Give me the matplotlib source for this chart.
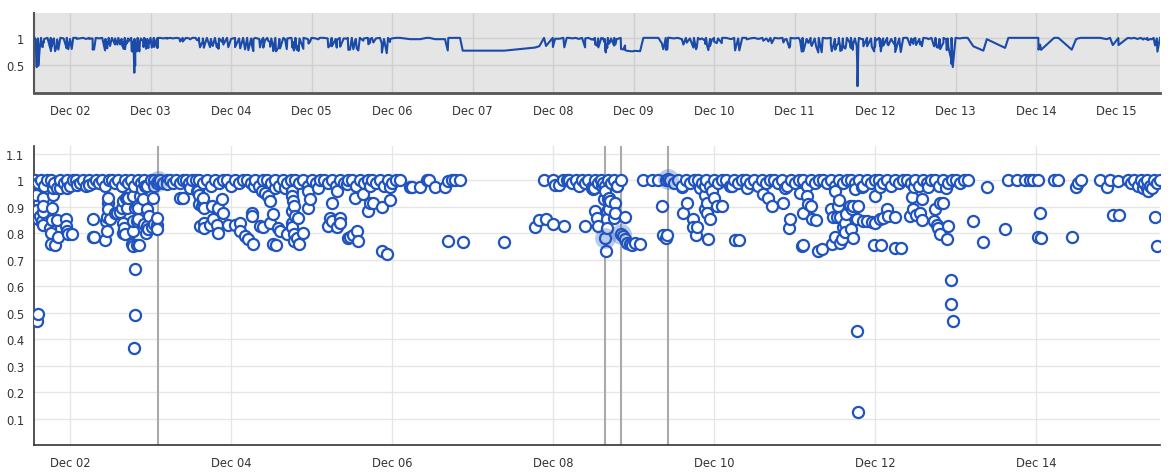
import matplotlib

matplotlib.use("Agg")
import matplotlib.dates as mdates
import matplotlib.pyplot as plt
import numpy as np
import pandas as pd
from matplotlib.ticker import FuncFormatter

START = pd.Timestamp("2023-12-01")

# readings sitting on the ~1.0 plateau (days since Dec 01 00:00)
plateau_a_days = [
    0.56, 0.60, 0.64, 0.68, 0.72, 0.76, 0.80, 0.84, 0.88, 0.92, 0.96, 1.00, 1.04,
    1.08, 1.12, 1.16, 1.20, 1.24, 1.28, 1.32, 1.36, 1.40, 1.44, 1.48, 1.52, 1.56,
    1.60, 1.64, 1.68, 1.72, 1.76, 1.80, 1.84, 1.88, 1.92, 1.96, 2.00, 2.04, 2.08,
    2.12, 2.16, 2.20, 2.24, 2.28, 2.32, 2.36, 2.40, 2.44, 2.48, 2.52, 2.56,
]
plateau_a_vals = [
    1.0, 0.99, 1.0, 0.98, 1.0, 1.0, 0.99, 0.97, 1.0, 0.99, 1.0, 0.98, 1.0,
    1.0, 0.99, 1.0, 0.98, 1.0, 0.99, 1.0, 0.99, 1.0, 0.98, 1.0, 1.0, 0.99,
    1.0, 0.98, 1.0, 0.99, 1.0, 0.98, 1.0, 0.99, 1.0, 0.98, 1.0, 1.0, 0.99,
    1.0, 0.99, 1.0, 1.0, 0.99, 1.0, 0.99, 1.0, 1.0, 0.99, 1.0, 1.0,
]
plateau_b_days = [
    2.60, 2.65, 2.70, 2.75, 2.80, 2.85, 2.90, 2.95, 3.00, 3.05, 3.10, 3.15, 3.20,
    3.25, 3.30, 3.35, 3.40, 3.45, 3.50, 3.55, 3.60, 3.65, 3.70, 3.75, 3.80, 3.85,
    3.90, 3.95, 4.00, 4.05, 4.10, 4.15, 4.20, 4.25, 4.30, 4.35, 4.40, 4.45, 4.50,
    4.55, 4.60, 4.65, 4.70, 4.75, 4.80, 4.85, 4.90, 4.95, 5.00, 5.05, 5.10,
]
plateau_b_vals = [
    1.0, 0.99, 1.0, 0.98, 1.0, 0.99, 1.0, 1.0, 0.98, 1.0, 0.99, 1.0, 1.0,
    0.99, 1.0, 0.98, 1.0, 1.0, 0.99, 1.0, 0.98, 1.0, 0.99, 1.0, 1.0, 0.99,
    1.0, 0.98, 1.0, 0.99, 1.0, 1.0, 0.99, 1.0, 0.98, 1.0, 0.99, 1.0, 1.0,
    0.98, 1.0, 0.99, 1.0, 1.0, 0.99, 1.0, 0.98, 1.0, 0.99, 1.0, 1.0,
]
plateau_c_days = [
    7.20, 7.24, 7.28, 7.32, 7.36, 7.40, 7.44, 7.48, 7.52, 7.56, 7.60, 7.64, 7.68,
    7.72, 7.76, 7.80, 7.84,
]
plateau_c_vals = [
    1.0, 0.99, 1.0, 0.98, 1.0, 0.99, 1.0, 0.97, 1.0, 0.99, 1.0, 0.98, 1.0,
    0.99, 1.0, 0.98, 1.0,
]
plateau_d_days = [
    8.40, 8.45, 8.50, 8.55, 8.60, 8.65, 8.70, 8.75, 8.80, 8.85, 8.90, 8.95, 9.00,
    9.05, 9.10, 9.15, 9.20, 9.25, 9.30, 9.35, 9.40, 9.45, 9.50, 9.55, 9.60, 9.65,
    9.70, 9.75, 9.80, 9.85, 9.90, 9.95, 10.00, 10.05, 10.10, 10.15, 10.20, 10.25,
    10.30, 10.35, 10.40, 10.45, 10.50, 10.55, 10.60, 10.65, 10.70, 10.75, 10.80,
    10.85, 10.90, 10.95, 11.00, 11.05, 11.10, 11.15, 11.20, 11.25, 11.30, 11.35,
    11.40, 11.45, 11.50, 11.55, 11.60, 11.65, 11.70, 11.75, 11.80, 11.85, 11.90,
    11.95, 12.00, 12.05, 12.10, 12.15,
]
plateau_d_vals = [
    1.0, 1.0, 0.99, 1.0, 0.98, 1.0, 0.99, 1.0, 1.0, 0.99, 1.0, 0.98, 1.0,
    0.99, 1.0, 1.0, 0.98, 1.0, 0.99, 1.0, 1.0, 0.99, 1.0, 0.98, 1.0, 0.99,
    1.0, 1.0, 0.99, 1.0, 0.98, 1.0, 0.99, 1.0, 1.0, 0.98, 1.0, 0.99,
    1.0, 1.0, 0.99, 1.0, 0.98, 1.0, 0.99, 1.0, 1.0, 0.99, 1.0,
    0.98, 1.0, 0.99, 1.0, 1.0, 0.99, 1.0, 0.98, 1.0, 0.99, 1.0,
    1.0, 0.99, 1.0, 0.98, 1.0, 0.99, 1.0, 1.0, 0.98, 1.0, 0.99,
    1.0, 1.0, 0.99, 1.0, 1.0,
]
plateau_e_days = [14.14, 14.18, 14.22, 14.26, 14.30, 14.34, 14.38, 14.42, 14.46, 14.50, 14.54]
plateau_e_vals = [1.0, 0.99, 1.0, 0.98, 1.0, 0.99, 1.0, 0.98, 1.0, 0.99, 1.0]

# readings off the plateau
dips_a_days = [
    0.586, 0.606, 0.578, 0.588, 0.596, 0.627, 0.648, 0.661, 0.668, 0.670, 0.663,
    0.773, 0.785, 0.752, 0.760, 0.775, 0.835, 0.762, 0.814, 0.855, 0.950, 0.952,
    0.959, 0.979, 1.021, 1.083, 0.961, 0.876, 0.789, 1.289, 1.282, 1.298, 1.240,
    1.435, 1.463, 1.447, 1.497, 1.465, 1.466, 1.476, 1.468, 1.559, 1.588, 1.621,
    1.642, 1.662, 1.696, 1.724, 1.704, 1.655, 1.671, 1.664, 1.683, 1.766, 1.779,
    1.829, 1.861, 1.807, 1.809, 1.799, 1.781, 1.786, 1.831, 1.848, 1.811, 1.833,
    1.849, 1.788, 1.870, 1.911, 1.891, 1.932, 1.913, 1.953, 1.973, 2.015, 2.043,
    2.077, 1.944, 1.975, 1.955, 2.084, 2.086, 2.035, 2.045, 2.201, 2.366, 2.400,
    2.491, 2.594, 2.606, 2.615,
]
dips_a_vals = [
    0.469, 0.494, 0.943, 0.89, 0.853, 0.867, 0.848, 0.833, 0.935, 0.905, 0.882,
    0.897, 0.943, 0.821, 0.802, 0.849, 0.849, 0.76, 0.757, 0.787, 0.853, 0.829,
    0.81, 0.796, 0.799, 0.981, 0.971, 0.973, 0.973, 0.853, 0.787, 0.787, 0.981,
    0.773, 0.81, 0.848, 0.853, 0.86, 0.916, 0.935, 0.891, 0.878, 0.878, 0.882,
    0.897, 0.924, 0.935, 0.933, 0.897, 0.84, 0.821, 0.802, 0.796, 0.76, 0.751,
    0.755, 0.755, 0.665, 0.492, 0.368, 0.809, 0.847, 0.847, 0.853, 0.897, 0.904,
    0.897, 0.942, 0.942, 0.929, 0.967, 0.98, 0.834, 0.828, 0.815, 0.824, 0.834,
    0.831, 0.802, 0.866, 0.891, 0.859, 0.815, 0.935, 0.98, 0.986, 0.935, 0.933,
    0.973, 0.961, 0.91, 0.828,
]
dips_b_days = [
    2.574, 2.596, 2.656, 2.648, 2.636, 2.658, 2.760, 2.884, 2.842, 2.904, 2.660,
    2.662, 2.739, 2.773, 2.822, 2.844, 2.966, 3.050, 3.112, 3.114, 3.174, 3.215,
    3.277, 3.257, 3.259, 3.279, 3.381, 3.422, 3.463, 3.484, 3.360, 3.401, 3.486,
    3.518, 3.588, 3.609, 3.525, 3.559, 3.547, 3.671, 3.692, 3.754, 3.756, 3.774,
    3.776, 3.758, 3.795, 3.836, 3.760, 3.762, 3.778, 3.780, 3.838, 3.898, 3.816,
    3.960, 3.981, 3.962, 4.085, 4.251, 4.230, 4.253, 4.354, 4.356, 4.208, 4.313,
    4.315, 4.437, 4.478, 4.519, 4.561, 4.581, 4.457, 4.540, 4.643, 4.727, 4.768,
    4.872, 4.975, 4.706, 4.729, 4.977, 4.874, 4.934, 5.224,
]
dips_b_vals = [
    0.961, 0.946, 0.935, 0.923, 0.904, 0.897, 0.904, 0.929, 0.897, 0.878, 0.84,
    0.821, 0.831, 0.853, 0.831, 0.802, 0.831, 0.831, 0.84, 0.809, 0.79, 0.777,
    0.76, 0.878, 0.866, 0.98, 0.961, 0.954, 0.942, 0.923, 0.828, 0.824, 0.84,
    0.872, 0.821, 0.809, 0.76, 0.755, 0.973, 0.973, 0.796, 0.961, 0.942, 0.923,
    0.904, 0.884, 0.866, 0.859, 0.84, 0.824, 0.796, 0.771, 0.76, 0.802, 0.783,
    0.961, 0.929, 0.897, 0.973, 0.913, 0.859, 0.847, 0.859, 0.84, 0.828, 0.824,
    0.961, 0.986, 0.786, 0.793, 0.809, 0.771, 0.783, 0.935, 0.948, 0.916, 0.916,
    0.9, 0.925, 0.884, 0.98, 0.976, 0.733, 0.722, 0.976,
]
dips_c_days = [
    5.245, 5.348, 5.430, 5.463, 5.534, 5.658, 5.699, 5.741, 5.783, 5.845, 5.692,
    5.878, 6.395, 6.888, 6.996, 7.025, 7.078, 7.128, 7.170, 6.776, 6.830, 6.913,
    6.998, 7.140, 7.398, 7.522, 7.543, 7.563, 7.634, 7.688, 7.667, 7.669, 7.674,
    7.655, 7.481, 7.501, 7.605, 7.646, 7.503, 7.690, 7.708, 7.770, 7.692, 7.772,
    7.758, 7.894, 7.625, 7.791, 7.873, 7.896, 7.923, 7.957, 8.019, 8.081, 7.981,
    8.122, 8.226, 8.308, 8.350, 8.370, 8.420, 8.404, 8.599, 8.619, 8.661, 8.736,
    8.743, 8.785, 8.776, 8.826, 8.888, 8.909, 8.890, 8.911, 8.950, 8.929, 8.971,
    9.000, 9.033, 9.095, 8.892, 9.220, 9.261, 9.314, 9.406, 9.612, 9.675, 9.717,
    9.861, 9.882, 9.935, 9.944,
]
dips_c_vals = [
    0.976, 0.976, 1.0, 1.0, 0.976, 0.976, 0.999, 1.0, 1.0, 1.0, 0.771,
    0.768, 0.768, 1.0, 1.0, 0.984, 0.984, 1.0, 1.0, 0.824, 0.849, 0.853,
    0.834, 0.828, 0.828, 0.884, 0.859, 0.828, 0.929, 0.929, 0.884, 0.853, 0.821,
    0.735, 0.976, 0.967, 0.98, 0.961, 0.973, 0.935, 0.923, 0.916, 0.891, 0.878,
    0.859, 0.862, 0.992, 0.98, 0.79, 0.777, 0.764, 0.758, 0.764, 0.758, 0.755,
    1.0, 1.0, 1.0, 0.904, 0.793, 0.793, 0.783, 0.976, 0.878, 0.913, 0.853,
    0.824, 0.824, 0.793, 0.973, 0.946, 0.913, 0.891, 0.875, 0.853, 0.777, 0.961,
    0.933, 0.904, 0.904, 0.98, 0.98, 0.773, 0.773, 0.973, 0.948, 0.935, 0.904,
    0.916, 0.973, 0.821, 0.853,
]
dips_d_days = [
    10.068, 10.159, 10.171, 10.201, 10.102, 10.213, 10.267, 10.089, 10.109, 10.295,
    10.337, 10.503, 10.556, 10.544, 10.450, 10.482, 10.524, 10.565, 10.640, 10.689,
    10.730, 10.793, 10.711, 10.627, 10.606, 10.629, 10.698, 10.723, 10.505, 10.587,
    10.567, 10.462, 10.772, 10.855, 10.901, 10.959, 11.000, 11.062, 11.103, 11.153,
    11.165, 11.248, 10.752, 10.835, 11.002, 11.064, 10.988, 11.071, 11.250, 11.319,
    11.456, 11.580, 11.476, 11.559, 11.435, 11.509, 11.582, 11.478, 11.662, 11.745,
    11.807, 11.849, 11.733, 11.766, 11.809, 11.911, 11.891, 11.786, 11.882, 11.944,
    11.946, 11.965, 10.780, 10.782, 12.221, 12.388, 12.345, 12.615, 12.656, 12.760,
    12.863, 12.925, 12.967, 13.028, 13.050, 13.030, 13.062, 13.224, 13.277, 13.443,
    13.497, 13.555, 13.522, 13.795, 13.878, 13.919, 14.022, 13.953, 14.024, 14.375,
    14.437, 14.478, 14.507, 14.329, 14.391,
]
dips_d_vals = [
    0.954, 0.942, 0.91, 0.904, 0.878, 0.853, 0.849, 0.751, 0.755, 0.735,
    0.739, 0.961, 0.925, 0.904, 0.891, 0.862, 0.862, 0.862, 0.872, 0.904,
    0.904, 0.904, 0.891, 0.84, 0.824, 0.806, 0.818, 0.783, 0.786, 0.777,
    0.764, 0.758, 0.853, 0.847, 0.847, 0.844, 0.84, 0.853, 0.859, 0.891,
    0.866, 0.862, 0.967, 0.976, 0.942, 0.976, 0.755, 0.755, 0.743, 0.743,
    0.938, 0.929, 0.891, 0.878, 0.866, 0.87, 0.849, 0.976, 0.976, 0.891,
    0.916, 0.913, 0.847, 0.831, 0.796, 0.828, 0.777, 0.821, 0.973, 0.622,
    0.532, 0.47, 0.43, 0.124, 0.847, 0.976, 0.768, 0.818, 1.0, 1.0,
    1.0, 1.0, 1.0, 1.0, 0.878, 0.786, 0.783, 1.0, 1.0, 0.786,
    0.976, 1.0, 0.99, 1.0, 0.976, 1.0, 0.996, 0.869, 0.869, 0.973,
    0.973, 0.862, 0.751, 0.97, 0.96,
]

# selected readings (marked with a vertical rule)
marked_days = [2.093, 7.646, 7.845, 8.429]
marked_vals = [0.999, 0.783, 0.796, 1.005]

X_MIN, X_MAX = 0.553, 14.54
BLUE = "#1f53bd"
LINE_BLUE = "#1b4ba8"
TEXT = "#333333"


def to_num(days):
    return mdates.date2num(START.to_pydatetime()) + np.asarray(days, dtype=float)


def style_axis(ax):
    for side in ("top", "right"):
        ax.spines[side].set_visible(False)
    ax.tick_params(length=0, labelsize=8.3, labelcolor=TEXT)
    ax.tick_params(axis="x", pad=8)
    ax.tick_params(axis="y", pad=7)
    ax.yaxis.set_major_formatter(FuncFormatter(lambda v, _: f"{v:g}"))
    ax.xaxis.set_major_formatter(mdates.DateFormatter("%b %d"))
    ax.set_xlim(to_num(X_MIN), to_num(X_MAX))


def main() -> None:
    days = np.concatenate([
        plateau_a_days, plateau_b_days, plateau_c_days, plateau_d_days, plateau_e_days,
        dips_a_days, dips_b_days, dips_c_days, dips_d_days, marked_days,
    ])
    vals = np.concatenate([
        plateau_a_vals, plateau_b_vals, plateau_c_vals, plateau_d_vals, plateau_e_vals,
        dips_a_vals, dips_b_vals, dips_c_vals, dips_d_vals, marked_vals,
    ])
    order = np.argsort(days, kind="stable")
    x = to_num(days[order])
    y = vals[order]

    fig = plt.figure(figsize=(11.7, 4.77), dpi=100)
    ax_top = fig.add_axes([0.0291, 0.8029, 0.9624, 0.1677])
    ax = fig.add_axes([0.0291, 0.065, 0.9624, 0.6268])

    # overview strip
    ax_top.set_facecolor("#e5e5e5")
    ax_top.plot(x, y, color=LINE_BLUE, lw=1.5, zorder=3)
    ax_top.set_ylim(0, 1.45)
    ax_top.set_yticks([0.5, 1])
    ax_top.xaxis.set_major_locator(mdates.DayLocator())
    ax_top.grid(True, color="#d0d0d0", lw=1)
    style_axis(ax_top)
    ax_top.spines["bottom"].set_color("#555555")
    ax_top.spines["bottom"].set_linewidth(2)
    ax_top.spines["left"].set_color("#555555")
    ax_top.spines["left"].set_linewidth(1.5)

    # detail scatter
    ax.set_ylim(0, 1.13)
    ax.set_yticks([0.1, 0.2, 0.3, 0.4, 0.5, 0.6, 0.7, 0.8, 0.9, 1.0, 1.1])
    ax.xaxis.set_major_locator(mdates.DayLocator(bymonthday=range(2, 31, 2)))
    ax.grid(True, color="#e6e6e6", lw=1, zorder=0)
    ax.set_axisbelow(True)
    style_axis(ax)
    ax.spines["bottom"].set_color("#333333")
    ax.spines["left"].set_color("#333333")
    ax.spines["bottom"].set_linewidth(1.2)
    ax.spines["left"].set_linewidth(1.2)

    for d in marked_days:
        ax.axvline(to_num(d), color="#aaaaaa", lw=1.5, zorder=1)

    ax.plot(x, y, "o", ls="none", ms=8, mfc="white", mec=BLUE, mew=1.6, zorder=3)
    ax.plot(to_num(marked_days), marked_vals, "o", ls="none", ms=15,
            color=BLUE, alpha=0.3, mew=0, zorder=4)

    fig.savefig("out.png", dpi=100)


if __name__ == "__main__":
    main()
